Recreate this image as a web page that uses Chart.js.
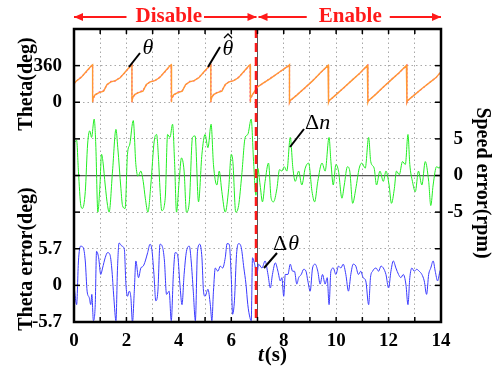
<!DOCTYPE html>
<html>
<head>
<meta charset="utf-8">
<script src="https://cdn.jsdelivr.net/npm/chart.js@4.4.1/dist/chart.umd.min.js"></script>
<style>
  html, body { margin: 0; padding: 0; background: #fff; }
</style>
</head>
<body>
<canvas id="chart" width="496" height="376"></canvas>
<script>
// Time axis (s)
var xTickLabels = [0, 2, 4, 6, 8, 10, 12, 14];
var switchTime = 7;

// Rotor angle: actual (theta) and estimated (theta hat), deg
var thetaTime = [0, 0.10, 0.26, 0.46, 0.67, 0.71, 0.71,
  0.73, 0.81, 0.96, 1.13, 1.26, 1.41, 1.58, 1.76, 1.96, 2.17, 2.21, 2.21,
  2.23, 2.31, 2.46, 2.63, 2.76, 2.91, 3.08, 3.26, 3.46, 3.67, 3.71, 3.71,
  3.73, 3.81, 3.96, 4.13, 4.26, 4.41, 4.58, 4.76, 4.96, 5.18, 5.22, 5.22,
  5.24, 5.32, 5.47, 5.64, 5.77, 5.92, 6.09, 6.27, 6.47, 6.68, 6.72, 6.72,
  6.74, 6.82, 6.92, 7.00, 7.20, 7.50, 7.80, 8.00, 8.20, 8.22, 8.22,
  8.24, 8.50, 8.80, 9.10, 9.40, 9.69, 9.71, 9.71,
  9.73, 10.00, 10.30, 10.60, 10.90, 11.19, 11.21, 11.21,
  11.23, 11.50, 11.80, 12.10, 12.40, 12.68, 12.70, 12.70,
  12.72, 13.00, 13.30, 13.60, 13.80, 14.00];
var thetaDeg = [185, 212, 240, 300, 360, 368, 0,
  40, 75, 95, 110, 175, 200, 212, 240, 300, 360, 368, 0,
  40, 75, 95, 110, 175, 200, 212, 240, 300, 360, 368, 0,
  40, 75, 95, 110, 175, 200, 212, 240, 300, 360, 368, 0,
  40, 75, 95, 110, 175, 200, 212, 240, 300, 360, 368, 0,
  40, 80, 120, 150, 185, 235, 290, 325, 362, 368, 0,
  15, 70, 140, 210, 290, 362, 368, 0,
  15, 75, 145, 215, 285, 362, 368, 0,
  15, 75, 150, 220, 290, 362, 368, 0,
  15, 75, 140, 200, 240, 300];
var thetaHatDeg = [180, 210, 245, 295, 358, 365, 0,
  35, 70, 100, 115, 170, 205, 210, 245, 295, 358, 365, 0,
  35, 70, 100, 115, 170, 205, 210, 245, 295, 358, 365, 0,
  35, 70, 100, 115, 170, 205, 210, 245, 295, 358, 365, 0,
  35, 70, 100, 115, 170, 205, 210, 245, 295, 358, 365, 0,
  35, 78, 118, 152, 183, 238, 288, 327, 360, 365, 0,
  12, 72, 138, 212, 288, 360, 365, 0,
  12, 77, 143, 217, 283, 360, 365, 0,
  12, 77, 148, 222, 288, 360, 365, 0,
  12, 77, 138, 202, 238, 298];

// Speed error (rpm)
var speedTime = [0.01, 0.10, 0.17, 0.26, 0.32, 0.43, 0.52, 0.60, 0.67, 0.77, 0.83, 0.91, 0.99,
  1.05, 1.11, 1.19, 1.28, 1.34, 1.47, 1.60, 1.67, 1.79, 1.85, 1.95,
  2.04, 2.13, 2.26, 2.36, 2.44, 2.55, 2.64, 2.72, 2.82, 2.93,
  3.06, 3.15, 3.23, 3.28, 3.35, 3.48, 3.57, 3.66, 3.76, 3.84, 3.91,
  4.01, 4.10, 4.20, 4.29, 4.40, 4.52, 4.62, 4.75, 4.88,
  5.00, 5.11, 5.23, 5.32, 5.45, 5.54, 5.64, 5.77, 5.90,
  6.00, 6.06, 6.17, 6.28, 6.40, 6.53, 6.63, 6.76, 6.85, 6.94,
  7.01, 7.10, 7.19, 7.29, 7.42, 7.52, 7.61, 7.74, 7.84, 7.93,
  8.02, 8.12, 8.25, 8.35, 8.44, 8.57, 8.69, 8.82, 8.95,
  9.08, 9.18, 9.30, 9.46, 9.58, 9.73, 9.80, 9.89, 9.99,
  10.09, 10.22, 10.31, 10.43, 10.52, 10.63, 10.75, 10.88, 10.98,
  11.11, 11.24, 11.32, 11.45, 11.54, 11.67, 11.80, 11.90,
  12.02, 12.11, 12.22, 12.30, 12.41, 12.53, 12.64, 12.74, 12.81, 12.91,
  13.02, 13.14, 13.27, 13.40, 13.53, 13.61, 13.70, 13.83, 13.93, 14.00];
var speedErr = [4.5, 4.8, 0.5, -4.1, -4.5, -2.2, 4.3, 6.1, 5.2, 7.7, 4.3, -5.0, -1.3,
  2.9, 1.7, -1.3, -4.1, -5.0, 0.6, 6.3, 3.8, -1.8, -4.1, -4.5,
  2.9, 4.3, 7.5, 1.5, -0.1, 0.6, -0.8, -3.1, -5.0, -1.3,
  4.7, 5.6, 1.9, -1.8, -4.8, -3.1, 5.6, 5.2, 7.0, 1.5, -5.0,
  -0.8, 2.4, 0.6, -5.0, -3.6, 5.2, 5.4, -3.6, 2.9,
  5.6, 3.8, 7.0, 1.5, -1.3, 0.6, -2.2, -5.0, -1.8,
  2.9, 1.9, -5.0, -4.1, 0.1, 5.2, 5.6, 7.7, 1.9, -2.7,
  1.0, -1.3, -3.6, -0.8, 1.7, -3.1, -3.6, -1.8, 0.8, 0.6,
  1.2, 0.6, 5.2, 1.0, -0.8, 0.6, -1.3, 1.0, 1.7,
  -2.2, -3.6, -0.8, 1.7, 0.6, 5.2, 1.9, -1.3, 1.5,
  0.6, -3.1, -1.3, 1.2, 0.6, -3.8, -1.8, 1.0, 1.7,
  1.0, 5.2, 1.9, 1.0, -1.3, 0.6, -0.8, 0.6,
  -1.3, -3.8, -1.8, 0.6, 0.1, 1.9, 1.5, 5.6, 1.5, -0.8,
  -2.2, 0.6, -1.3, 1.9, -0.8, -4.1, -1.3, 1.2, 1.0, 1.5];

// Angle error (deg)
var errTime = [0.01, 0.10, 0.17, 0.25, 0.35, 0.43, 0.50, 0.58, 0.64, 0.68, 0.74, 0.81, 0.86, 0.94,
  1.02, 1.09, 1.19, 1.28, 1.37, 1.44, 1.52, 1.60, 1.66, 1.72, 1.83, 1.92, 1.98,
  2.04, 2.11, 2.17, 2.23, 2.30, 2.36, 2.46, 2.55, 2.64, 2.72, 2.81, 2.90, 2.97,
  3.05, 3.12, 3.20, 3.28, 3.38, 3.45, 3.53, 3.63, 3.71, 3.79, 3.86, 3.95,
  4.04, 4.12, 4.20, 4.29, 4.40, 4.47, 4.55, 4.63, 4.71, 4.80, 4.88, 4.94,
  5.00, 5.11, 5.20, 5.26, 5.32, 5.39, 5.49, 5.58, 5.67, 5.77, 5.84, 5.92,
  6.00, 6.05, 6.12, 6.20, 6.28, 6.38, 6.48, 6.56, 6.63, 6.71, 6.76, 6.81, 6.89, 6.98,
  7.04, 7.17, 7.29, 7.40, 7.49, 7.57, 7.68, 7.78, 7.87, 7.93,
  8.00, 8.06, 8.16, 8.25, 8.34, 8.41, 8.50, 8.57, 8.67, 8.76, 8.85, 8.92,
  9.01, 9.10, 9.20, 9.30, 9.39, 9.48, 9.58, 9.66, 9.73, 9.80, 9.89, 9.99,
  10.09, 10.18, 10.27, 10.37, 10.47, 10.56, 10.65, 10.75, 10.85, 10.94,
  11.03, 11.13, 11.24, 11.31, 11.39, 11.52, 11.62, 11.71, 11.80, 11.90,
  12.00, 12.09, 12.18, 12.28, 12.38, 12.47, 12.56, 12.66, 12.74, 12.81, 12.89, 12.98,
  13.07, 13.17, 13.27, 13.36, 13.45, 13.53, 13.61, 13.70, 13.78, 13.87, 13.96, 14.00];
var errDeg = [-0.4, -3.0, 3.8, 6.1, 5.9, 3.8, -0.9, -1.9, -3.0, -1.4, -5.5, -3.0, 5.3, 4.3,
  1.7, 2.7, 4.3, 5.1, 4.8, 2.7, -1.9, -5.5, 2.7, 6.6, 6.1, 5.6, 0.2,
  -1.7, -0.9, -1.9, -5.8, -0.9, 3.8, 1.2, 2.7, 3.0, 3.8, 5.1, 6.4, 5.6,
  1.7, -2.4, -0.9, 6.4, 5.9, 3.8, -1.4, -0.9, -5.5, 1.7, 5.1, 4.8,
  0.2, -3.0, 1.7, 5.3, 6.1, 3.8, -0.9, -5.5, 5.3, 6.4, 4.3, -0.9,
  -1.7, -0.6, -3.0, -5.5, -0.9, 2.7, 2.2, 3.0, 2.7, 4.3, 6.5, 6.4,
  1.2, -4.5, -2.4, 4.8, 6.5, 5.9, 2.7, 0.2, -3.0, -5.0, -5.5, 4.3, 3.3, 1.7,
  3.3, 2.7, 3.8, 1.7, -0.4, 1.7, 3.5, 2.2, 0.7, 1.2,
  -1.7, 1.7, 1.7, 3.3, 2.2, 2.2, 0.2, 1.2, 1.7, 2.5, 2.2, 0.7,
  -0.9, 2.7, 3.3, 2.2, 0.2, 1.7, 0.2, 1.2, -3.0, 2.2, 2.7, 1.7,
  3.0, 2.7, 3.3, 1.7, -0.9, 1.7, 3.3, 3.0, 1.7, 2.2,
  1.2, 0.7, -3.0, 1.2, 2.2, 2.7, 2.2, 3.0, 2.7, 1.7,
  -0.4, 2.2, 3.8, 2.7, 1.7, 1.2, 1.7, 0.2, -3.0, 1.2, 2.7, 2.2,
  2.5, 2.2, 1.7, 0.7, -1.4, 1.7, 2.7, 3.8, 2.2, 0.7, 2.2, 2.5];

// Labelled ticks
var thetaTicks = [0, 360];
var speedTicks = [-5, 0, 5];
var errTicks = [-5.7, 0, 5.7];

var serif = "'Liberation Serif', 'Times New Roman', serif";
var tickFont = { family: serif, size: 19, weight: 'bold' };

function pts(ts, vs) {
  return ts.map(function(t, i) { return { x: t, y: vs[i] }; });
}

function line(c, x1, y1, x2, y2) {
  c.beginPath(); c.moveTo(x1, y1); c.lineTo(x2, y2); c.stroke();
}

function arrow(c, x1, x2, y, headStart, headEnd) {
  line(c, x1, y, x2, y);
  var h = 9, w = 4;
  if (headStart) {
    c.beginPath(); c.moveTo(x1, y); c.lineTo(x1 + h, y - w); c.lineTo(x1 + h, y + w); c.closePath(); c.fill();
  }
  if (headEnd) {
    c.beginPath(); c.moveTo(x2, y); c.lineTo(x2 - h, y - w); c.lineTo(x2 - h, y + w); c.closePath(); c.fill();
  }
}

var overlay = {
  id: 'overlay',
  afterDatasetsDraw: function(chart) {
    var c = chart.ctx, a = chart.chartArea, sx = chart.scales.x;
    var xs = sx.getPixelForValue(switchTime);
    c.save();

    // switching instant
    c.strokeStyle = '#ff1a1a'; c.lineWidth = 2.5; c.setLineDash([9, 5]);
    line(c, xs - 1.5, a.top, xs - 1.5, a.bottom);
    c.setLineDash([]);

    // box and inner tick marks
    c.strokeStyle = '#000'; c.lineWidth = 2.5;
    c.strokeRect(a.left, a.top, a.right - a.left, a.bottom - a.top);
    c.lineWidth = 1.5;
    for (var s = 0; s <= 14; s++) {
      var px = sx.getPixelForValue(s);
      line(c, px, a.bottom, px, a.bottom - 5);
      line(c, px, a.top, px, a.top + 5);
    }
    [[chart.scales.yTheta, thetaTicks], [chart.scales.ySpeed, speedTicks], [chart.scales.yErr, errTicks]].forEach(function(p) {
      p[1].forEach(function(v) {
        var py = p[0].getPixelForValue(v);
        line(c, a.left, py, a.left + 6, py);
        line(c, a.right, py, a.right - 6, py);
      });
    });

    // Disable / Enable arrows
    c.fillStyle = '#ff1a1a'; c.strokeStyle = '#ff1a1a'; c.lineWidth = 2;
    c.font = 'bold 21px ' + serif; c.textAlign = 'center'; c.textBaseline = 'middle';
    var ay = 17;
    var dx = (a.left + xs) / 2 + 3, ex = (xs + a.right) / 2 + 1;
    var dw = c.measureText('Disable').width, ew = c.measureText('Enable').width;
    c.fillText('Disable', dx, ay);
    c.fillText('Enable', ex, ay);
    arrow(c, a.left, dx - dw / 2 - 9, ay, true, false);
    arrow(c, dx + dw / 2 + 2, xs - 1, ay, false, true);
    arrow(c, xs + 1, ex - ew / 2 - 12, ay, true, false);
    arrow(c, ex + ew / 2 + 8, a.right, ay, false, true);

    // axis titles
    c.fillStyle = '#000'; c.strokeStyle = '#000';
    c.font = 'bold 20px ' + serif;
    c.save(); c.translate(27, 84); c.rotate(-Math.PI / 2); c.fillText('Theta(deg)', 0, 0); c.restore();
    c.save(); c.translate(27, 259); c.rotate(-Math.PI / 2); c.fillText('Theta error(deg)', 0, 0); c.restore();
    c.save(); c.translate(482, 183); c.rotate(Math.PI / 2); c.fillText('Speed error(rpm)', 0, 0); c.restore();
    c.textAlign = 'left';
    c.font = 'italic bold 21px ' + serif;
    var tw = c.measureText('t').width;
    c.font = 'bold 21px ' + serif;
    var sw = c.measureText('(s)').width;
    var tx = 272 - (tw + sw) / 2;
    c.font = 'italic bold 21px ' + serif; c.fillText('t', tx, 356);
    c.font = 'bold 21px ' + serif; c.fillText('(s)', tx + tw + 1, 356);

    // curve labels
    c.lineWidth = 2;
    line(c, 129, 67, 140, 53);
    line(c, 208, 67, 220, 47);
    line(c, 290, 147, 304, 129);
    line(c, 264, 268, 277, 253);
    c.textAlign = 'center';
    c.font = 'italic 22px ' + serif;
    c.fillText('\u03b8', 148, 48);
    c.fillText('\u03b8', 228, 49);
    c.lineWidth = 1.3;
    c.beginPath(); c.moveTo(224, 38); c.lineTo(228, 34); c.lineTo(232, 38); c.stroke();
    c.textAlign = 'left';
    c.font = '22px ' + serif; c.fillText('\u0394', 305, 123);
    var dw2 = c.measureText('\u0394').width;
    c.font = 'italic 22px ' + serif; c.fillText('n', 305 + dw2, 123);
    c.font = '22px ' + serif; c.fillText('\u0394', 273, 244);
    c.font = 'italic 22px ' + serif; c.fillText('\u03b8', 273 + dw2 + 1, 244);
    c.restore();
  }
};

new Chart(document.getElementById('chart').getContext('2d'), {
  type: 'line',
  data: {
    datasets: [
      { label: 'theta', data: pts(thetaTime, thetaDeg), yAxisID: 'yTheta',
        borderColor: '#ff9933', borderWidth: 1.4, pointRadius: 0 },
      { label: 'theta hat', data: pts(thetaTime, thetaHatDeg), yAxisID: 'yTheta',
        borderColor: '#ff33cc', borderWidth: 1.2, borderDash: [2, 2], pointRadius: 0 },
      { label: 'speed error', data: pts(speedTime, speedErr), yAxisID: 'ySpeed',
        borderColor: '#22ee22', borderWidth: 1, pointRadius: 0, cubicInterpolationMode: 'monotone' },
      { label: 'theta error', data: pts(errTime, errDeg), yAxisID: 'yErr',
        borderColor: '#3a3aff', borderWidth: 1, pointRadius: 0, cubicInterpolationMode: 'monotone' }
    ]
  },
  options: {
    responsive: false,
    animation: false,
    layout: { padding: { top: 29, right: 33, left: 0, bottom: 0 } },
    plugins: { legend: { display: false }, tooltip: { enabled: false } },
    scales: {
      x: {
        type: 'linear', min: 0, max: 14,
        ticks: {
          stepSize: 1, autoSkip: false, maxRotation: 0, padding: 8, color: '#000', font: tickFont,
          callback: function(v) { return xTickLabels.indexOf(v) >= 0 ? String(v) : ''; }
        },
        grid: {
          drawTicks: false,
          color: function(ctx) { return ctx.tick && ctx.tick.value === switchTime ? '#555' : '#a8a8a8'; }
        },
        border: {
          display: false,
          dash: function(ctx) { return ctx.tick && ctx.tick.value === switchTime ? [] : [1.5, 3]; }
        },
        afterFit: function(s) { s.height = 54; }
      },
      ySpeed: {
        position: 'right', min: -20, max: 20,
        ticks: {
          stepSize: 5, autoSkip: false, crossAlign: 'far', color: '#000', font: tickFont,
          callback: function(v) { return speedTicks.indexOf(v) >= 0 ? String(v) : ''; }
        },
        grid: {
          drawTicks: false,
          color: function(ctx) { return ctx.tick && ctx.tick.value === 0 ? '#555' : '#a8a8a8'; },
          lineWidth: function(ctx) { return ctx.tick && ctx.tick.value === 0 ? 1.3 : 1; }
        },
        border: {
          display: false,
          dash: function(ctx) { return ctx.tick && ctx.tick.value === 0 ? [] : [1.5, 3]; }
        },
        afterFit: function(s) { s.width = 22; }
      },
      yErr: {
        position: 'left', stack: 'left', stackWeight: 5, min: -5.7, max: 22.8,
        afterBuildTicks: function(s) { s.ticks = errTicks.map(function(v) { return { value: v }; }); },
        ticks: { padding: 4, color: '#000', font: tickFont },
        grid: { display: false },
        border: { display: false },
        afterFit: function(s) { s.width = 74; }
      },
      yTheta: {
        position: 'left', stack: 'left', stackWeight: 3, min: -360, max: 720,
        afterBuildTicks: function(s) { s.ticks = thetaTicks.map(function(v) { return { value: v }; }); },
        ticks: { padding: 4, color: '#000', font: tickFont },
        grid: { display: false },
        border: { display: false },
        afterFit: function(s) { s.width = 74; }
      }
    }
  },
  plugins: [overlay]
});
</script>
</body>
</html>
